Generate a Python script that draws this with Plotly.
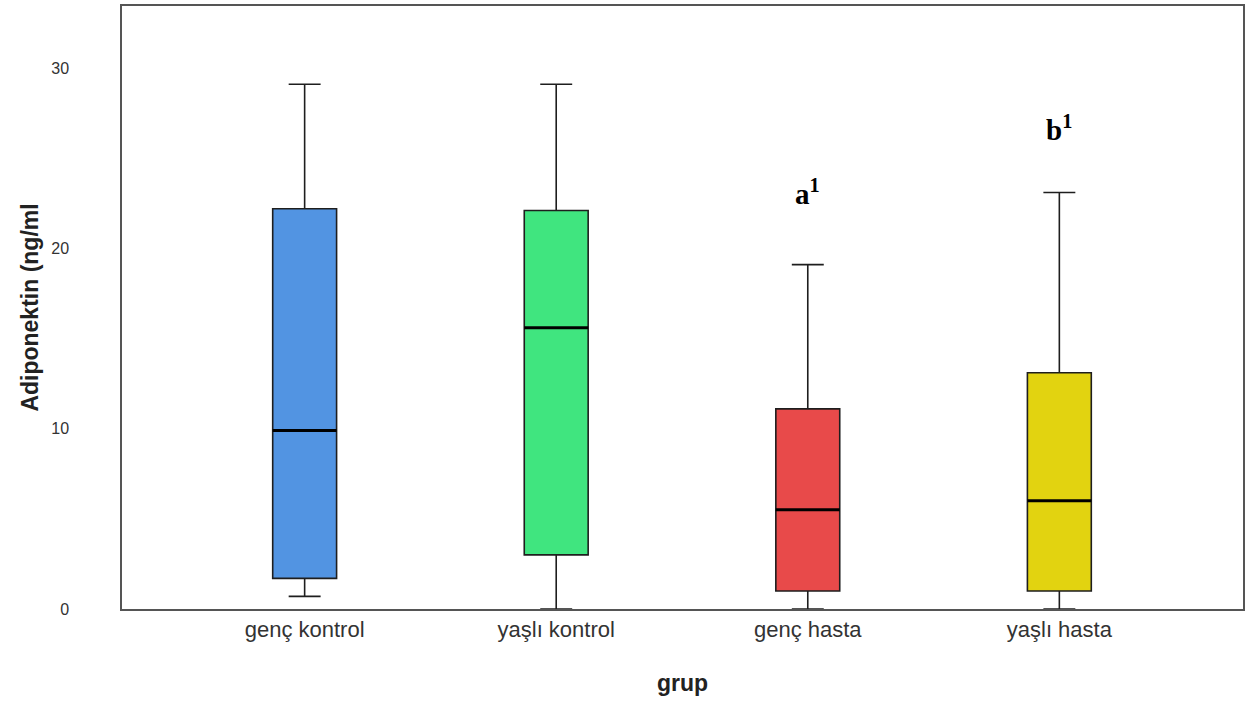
import plotly.graph_objects as go

categories = ["genç kontrol", "yaşlı kontrol", "genç hasta", "yaşlı hasta"]
lower = [0.7, 0.0, 0.0, 0.0]
q1 = [1.7, 3.0, 1.0, 1.0]
median = [9.9, 15.6, 5.5, 6.0]
q3 = [22.2, 22.1, 11.1, 13.1]
upper = [29.1, 29.1, 19.1, 23.1]
colors = ["#5294E2", "#40E57F", "#E84A4A", "#E2D310"]
sig_labels = ["", "", "a<sup>1</sup>", "b<sup>1</sup>"]
sig_y = [None, None, 23.1, 26.7]

BOX_W = 0.254

fig = go.Figure()
for i, cat in enumerate(categories):
    fig.add_trace(go.Box(
        x=[i], q1=[q1[i]], median=[median[i]], q3=[q3[i]],
        lowerfence=[lower[i]], upperfence=[upper[i]],
        fillcolor=colors[i], line=dict(color="#1e1e1e", width=1.6),
        width=BOX_W, whiskerwidth=0.5, boxpoints=False, showlegend=False,
        hoverinfo="skip",
    ))

# thicker median lines, drawn from the median data
mx, my = [], []
for i, m in enumerate(median):
    mx += [i - BOX_W / 2, i + BOX_W / 2, None]
    my += [m, m, None]
fig.add_trace(go.Scatter(x=mx, y=my, mode="lines", line=dict(color="black", width=3),
                         showlegend=False, hoverinfo="skip"))

for i, lab in enumerate(sig_labels):
    if lab:
        fig.add_annotation(x=i, y=sig_y[i], text="<b>" + lab + "</b>", showarrow=False,
                           font=dict(family="Liberation Serif", size=29, color="black"),
                           xanchor="center", yanchor="middle")

fig.update_layout(
    width=1247, height=702,
    margin=dict(l=122, r=2, t=6, b=93),
    plot_bgcolor="white", paper_bgcolor="white",
    font=dict(family="Liberation Sans", color="#333"),
)
fig.update_xaxes(
    tickmode="array", tickvals=list(range(len(categories))), ticktext=categories,
    range=[-0.726, 3.73], showgrid=False, zeroline=False,
    showline=True, mirror=True, linecolor="#555", linewidth=1.5,
    ticks="", tickfont=dict(size=22, color="#333"),
    title=dict(text="<b>grup</b>", font=dict(size=23, color="#222"), standoff=34),
)
fig.update_yaxes(
    range=[0, 33.44], tickvals=[0, 10, 20, 30], showgrid=False, zeroline=False,
    showline=True, mirror=True, linecolor="#555", linewidth=1.5,
    ticks="", ticklabelstandoff=48, tickfont=dict(size=16, color="#333"),
    title=dict(text="<b>Adiponektin (ng/ml</b>", font=dict(size=23, color="#222"), standoff=6),
)

fig.write_html("out.html", config={"displayModeBar": False},
               post_script="document.body.style.margin='0px';")
